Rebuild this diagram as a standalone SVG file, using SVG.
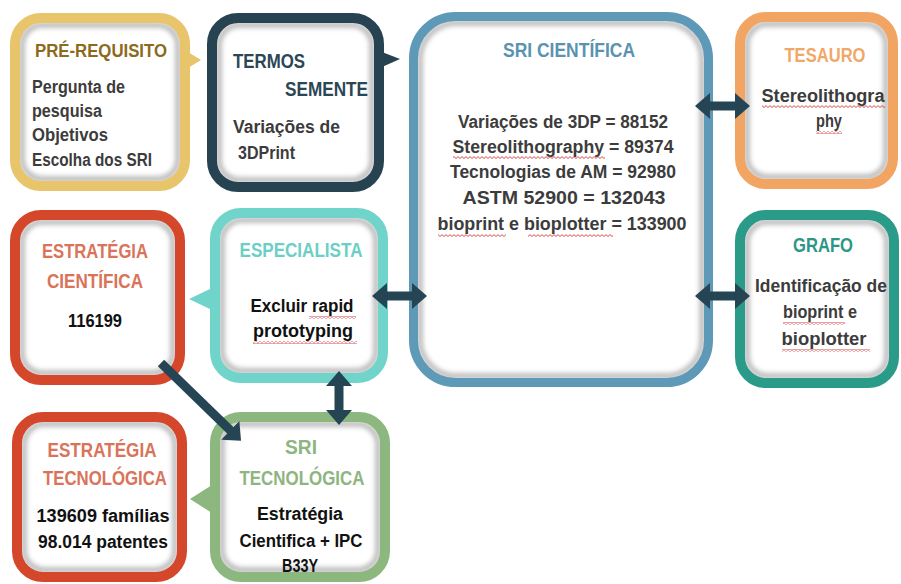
<svg xmlns="http://www.w3.org/2000/svg" width="901" height="584" viewBox="0 0 901 584">
<style>
  .bg{fill:#fff}
  .fillw{fill:#fff}
  .shade{fill:none;stroke:#808080;stroke-width:5;filter:url(#blur);opacity:.6}
  .frame{fill:none;stroke-width:10}
  text{font-family:"Liberation Sans","Roboto",Arial,sans-serif;font-weight:bold}
  .t{font-size:19.5px}
  .b{font-size:17.5px;fill:#3c3c3c}
  .k{font-size:17.5px;fill:#111}
  .m{text-anchor:middle}
  .conn line{stroke:#254555;stroke-width:9;marker-start:url(#head);marker-end:url(#head)}
  .conn line.one{marker-start:none}
  .wave{fill:url(#wv)}
</style>
<defs>
  <filter id="blur" x="-10%" y="-10%" width="120%" height="120%"><feGaussianBlur stdDeviation="2.5"/></filter>
  <marker id="head" markerUnits="userSpaceOnUse" markerWidth="15" markerHeight="26" viewBox="0 0 15 26" refX="1" refY="13" orient="auto-start-reverse">
    <path d="M0,0 L15,13 L0,26 z" fill="#254555"/>
  </marker>
  <pattern id="wv" patternUnits="userSpaceOnUse" width="4" height="3">
    <path d="M0,2.5 L2,0.6 L4,2.5" fill="none" stroke="#d23a3a" stroke-width="0.9"/>
  </pattern>
</defs>
<rect class="bg" x="0" y="0" width="901" height="584"/>

<g id="prerequisito">
  <rect class="fillw" x="15" y="18" width="170" height="168" rx="26"/>
  <rect class="shade" x="22" y="25" width="156" height="154" rx="20"/>
  <rect class="frame" stroke="#E8C46A" x="15" y="18" width="170" height="168" rx="26"/>
  <polygon points="188,52 201,60 188,68" fill="#E8C46A"/>
  <text x="35" y="57" style="font-size:18px" fill="#8C6A1C" textLength="132" lengthAdjust="spacingAndGlyphs">PRÉ-REQUISITO</text>
  <text class="b" x="32" y="93" textLength="93" lengthAdjust="spacingAndGlyphs">Pergunta de</text>
  <text class="b" x="32" y="117" textLength="70" lengthAdjust="spacingAndGlyphs">pesquisa</text>
  <text class="b" x="32" y="141" textLength="76" lengthAdjust="spacingAndGlyphs">Objetivos</text>
  <text class="b" x="32" y="166" textLength="120" lengthAdjust="spacingAndGlyphs">Escolha dos SRI</text>
</g>

<g id="termos">
  <rect class="fillw" x="212" y="18" width="167" height="169" rx="26"/>
  <rect class="shade" x="219" y="25" width="153" height="155" rx="20"/>
  <rect class="frame" stroke="#274352" x="212" y="18" width="167" height="169" rx="26"/>
  <polygon points="382,52 400,59 382,67" fill="#274352"/>
  <text class="t" x="233" y="68" fill="#2B4756" textLength="72" lengthAdjust="spacingAndGlyphs">TERMOS</text>
  <text class="t" x="285" y="96" fill="#2B4756" textLength="83" lengthAdjust="spacingAndGlyphs">SEMENTE</text>
  <text class="b" x="233" y="133" textLength="107" lengthAdjust="spacingAndGlyphs">Variações de</text>
  <text class="b" x="238" y="159" textLength="57" lengthAdjust="spacingAndGlyphs">3DPrint</text>
</g>

<g id="sri-cientifica">
  <rect class="fillw" x="413.5" y="16.5" width="295" height="366" rx="42"/>
  <rect class="shade" x="420" y="23" width="282" height="353" rx="36"/>
  <rect class="frame" stroke="#5E9AB8" style="stroke-width:9" x="413.5" y="16.5" width="295" height="366" rx="42"/>
  <text class="t m" x="569" y="57" fill="#5A93B0" textLength="132" lengthAdjust="spacingAndGlyphs">SRI CIENTÍFICA</text>
  <text class="b m" x="563" y="128" textLength="210" lengthAdjust="spacingAndGlyphs">Variações de 3DP = 88152</text>
  <text class="b m" x="563" y="153" textLength="221" lengthAdjust="spacingAndGlyphs">Stereolithography = 89374</text>
  <text class="b m" x="563" y="178" textLength="226" lengthAdjust="spacingAndGlyphs">Tecnologias de AM = 92980</text>
  <text class="b m" x="564" y="204" textLength="203" lengthAdjust="spacingAndGlyphs">ASTM 52900 = 132043</text>
  <text class="b m" x="562" y="230" textLength="249" lengthAdjust="spacingAndGlyphs">bioprint e bioplotter = 133900</text>
  <rect class="wave" x="453" y="156" width="152" height="3"/>
  <rect class="wave" x="438" y="234" width="68" height="3"/>
  <rect class="wave" x="528" y="234" width="85" height="3"/>
</g>

<g id="tesauro">
  <rect class="fillw" x="740" y="17" width="153" height="167" rx="26"/>
  <rect class="shade" x="747" y="24" width="139" height="153" rx="20"/>
  <rect class="frame" stroke="#F2A463" x="740" y="17" width="153" height="167" rx="26"/>
  <text class="t m" x="825" y="62" fill="#F0A868" textLength="81" lengthAdjust="spacingAndGlyphs">TESAURO</text>
  <text class="b m" x="823" y="102" textLength="123" lengthAdjust="spacingAndGlyphs">Stereolithogra</text>
  <text class="b m" x="829" y="127" textLength="26" lengthAdjust="spacingAndGlyphs">phy</text>
  <rect class="wave" x="762" y="105" width="123" height="3"/>
  <rect class="wave" x="816" y="131" width="26" height="3"/>
</g>

<g id="grafo">
  <rect class="fillw" x="740" y="215" width="154" height="168" rx="26"/>
  <rect class="shade" x="747" y="222" width="140" height="154" rx="20"/>
  <rect class="frame" stroke="#2A9A89" x="740" y="215" width="154" height="168" rx="26"/>
  <text class="t m" x="823" y="252" fill="#2E9686" textLength="60" lengthAdjust="spacingAndGlyphs">GRAFO</text>
  <text class="b m" x="821" y="292" textLength="132" lengthAdjust="spacingAndGlyphs">Identificação de</text>
  <text class="b m" x="820" y="318" textLength="74" lengthAdjust="spacingAndGlyphs">bioprint e</text>
  <text class="b m" x="824" y="345" textLength="85" lengthAdjust="spacingAndGlyphs">bioplotter</text>
  <rect class="wave" x="783" y="322" width="62" height="3"/>
  <rect class="wave" x="782" y="349" width="88" height="3"/>
</g>

<g id="estrategia-cientifica">
  <rect class="fillw" x="15" y="215" width="165" height="165" rx="26"/>
  <rect class="shade" x="22" y="222" width="151" height="151" rx="20"/>
  <rect class="frame" stroke="#D4472B" x="15" y="215" width="165" height="165" rx="26"/>
  <text class="t m" x="95" y="258" fill="#D9735A" textLength="106" lengthAdjust="spacingAndGlyphs">ESTRATÉGIA</text>
  <text class="t m" x="95" y="288" fill="#D9735A" textLength="96" lengthAdjust="spacingAndGlyphs">CIENTÍFICA</text>
  <text class="k m" x="95" y="327" textLength="54" lengthAdjust="spacingAndGlyphs">116199</text>
</g>

<g id="especialista">
  <rect class="fillw" x="215" y="213" width="168" height="165" rx="26"/>
  <rect class="shade" x="222" y="220" width="154" height="151" rx="20"/>
  <rect class="frame" stroke="#70D4CA" x="215" y="213" width="168" height="165" rx="26"/>
  <polygon points="212,288 189,299 212,310" fill="#70D4CA"/>
  <text class="t m" x="301" y="257" fill="#6CCFC5" textLength="123" lengthAdjust="spacingAndGlyphs">ESPECIALISTA</text>
  <text class="k m" x="302" y="312" textLength="103" lengthAdjust="spacingAndGlyphs">Excluir rapid</text>
  <text class="k m" x="303" y="337" textLength="100" lengthAdjust="spacingAndGlyphs">prototyping</text>
  <rect class="wave" x="309" y="316" width="47" height="3"/>
  <rect class="wave" x="253" y="341" width="104" height="3"/>
</g>

<g id="estrategia-tecnologica">
  <rect class="fillw" x="17" y="417" width="165" height="160" rx="26"/>
  <rect class="shade" x="24" y="424" width="151" height="146" rx="20"/>
  <rect class="frame" stroke="#D4472B" x="17" y="417" width="165" height="160" rx="26"/>
  <text class="t m" x="102" y="457" fill="#D9735A" textLength="109" lengthAdjust="spacingAndGlyphs">ESTRATÉGIA</text>
  <text class="t m" x="105" y="485" fill="#D9735A" textLength="124" lengthAdjust="spacingAndGlyphs">TECNOLÓGICA</text>
  <text class="k m" x="103" y="522" textLength="133" lengthAdjust="spacingAndGlyphs">139609 famílias</text>
  <text class="k m" x="103" y="548" textLength="130" lengthAdjust="spacingAndGlyphs">98.014 patentes</text>
</g>

<g id="sri-tecnologica">
  <rect class="fillw" x="215" y="417" width="170" height="160" rx="26"/>
  <rect class="shade" x="222" y="424" width="156" height="146" rx="20"/>
  <rect class="frame" stroke="#8CB77E" x="215" y="417" width="170" height="160" rx="26"/>
  <polygon points="212,485 190,499 212,513" fill="#8CB77E"/>
  <text class="t m" x="301" y="454" fill="#8DB580" textLength="32" lengthAdjust="spacingAndGlyphs">SRI</text>
  <text class="t m" x="302" y="485" fill="#8DB580" textLength="125" lengthAdjust="spacingAndGlyphs">TECNOLÓGICA</text>
  <text class="k m" x="300" y="520" textLength="86" lengthAdjust="spacingAndGlyphs">Estratégia</text>
  <text class="k m" x="301" y="547" textLength="123" lengthAdjust="spacingAndGlyphs">Cientifica + IPC</text>
  <text class="k m" x="300" y="572" textLength="36" lengthAdjust="spacingAndGlyphs">B33Y</text>
</g>

<g id="connectors" class="conn">
  <line x1="709" y1="106" x2="736" y2="106"/>
  <line x1="709" y1="296" x2="736" y2="296"/>
  <line x1="386" y1="296" x2="413" y2="296"/>
  <line x1="339" y1="385" x2="339" y2="411"/>
  <line class="one" x1="161" y1="363" x2="231" y2="431"/>
</g>
</svg>
